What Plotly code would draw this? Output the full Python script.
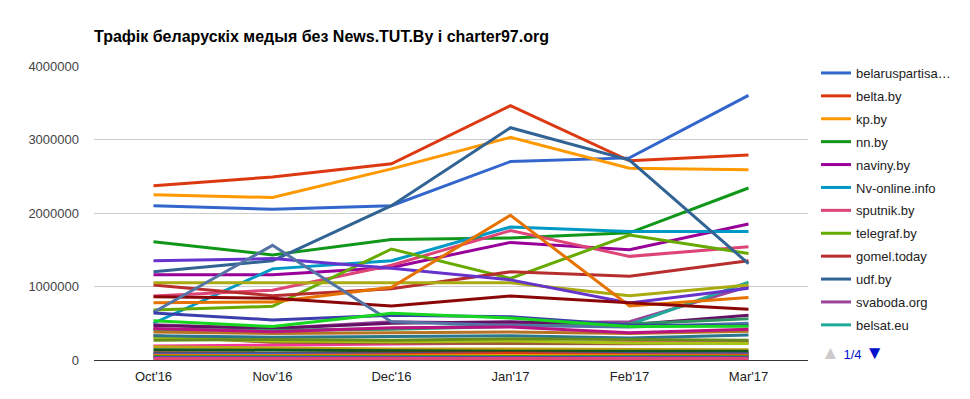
import plotly.graph_objects as go

months = ["Oct'16", "Nov'16", "Dec'16", "Jan'17", "Feb'17", "Mar'17"]

palette = ["#3366cc", "#dc3912", "#ff9900", "#109618", "#990099", "#0099c6",
           "#dd4477", "#66aa00", "#b82e2e", "#316395", "#994499", "#22aa99",
           "#aaaa11", "#6633cc", "#e67300", "#8b0707", "#651067", "#329262",
           "#5574a6", "#3b3eac", "#b77322", "#16d620", "#b91383", "#f4359e",
           "#9c5935", "#a9c413", "#2a778d", "#668d1c", "#bea413", "#0c5922",
           "#743411"]

# First legend page (visible)
belaruspartisan = [2100000, 2050000, 2100000, 2700000, 2750000, 3600000]
belta = [2370000, 2490000, 2670000, 3460000, 2710000, 2790000]
kp_by = [2250000, 2210000, 2600000, 3030000, 2610000, 2590000]
nn_by = [1610000, 1430000, 1640000, 1660000, 1730000, 2340000]
naviny_by = [1160000, 1160000, 1260000, 1600000, 1500000, 1850000]
nv_online = [500000, 1240000, 1350000, 1810000, 1750000, 1750000]
sputnik_by = [870000, 950000, 1290000, 1760000, 1410000, 1540000]
telegraf_by = [680000, 730000, 1510000, 1110000, 1700000, 1450000]
gomel_today = [1020000, 875000, 970000, 1200000, 1140000, 1350000]
udf_by = [1200000, 1350000, 2100000, 3160000, 2720000, 1310000]
svaboda_org = [480000, 430000, 520000, 500000, 520000, 1000000]
belsat_eu = [420000, 400000, 430000, 470000, 480000, 1060000]

# Remaining legend pages (2/4 .. 4/4), names not shown in the picture
s13 = [1050000, 1050000, 1050000, 1050000, 875000, 1020000]
s14 = [1350000, 1380000, 1250000, 1090000, 775000, 975000]
s15 = [780000, 790000, 990000, 1970000, 735000, 850000]
s16 = [860000, 840000, 735000, 870000, 780000, 690000]
s17 = [470000, 430000, 500000, 520000, 480000, 610000]
s18 = [420000, 400000, 420000, 450000, 490000, 560000]
s19 = [650000, 1560000, 520000, 470000, 450000, 500000]
s20 = [640000, 545000, 610000, 590000, 476000, 470000]
s21 = [380000, 360000, 370000, 380000, 360000, 390000]
s22 = [535000, 455000, 635000, 570000, 455000, 460000]
s23 = [430000, 385000, 440000, 450000, 370000, 420000]
s24 = [190000, 200000, 220000, 230000, 250000, 260000]
s25 = [330000, 240000, 230000, 220000, 220000, 230000]
s26 = [300000, 260000, 250000, 260000, 230000, 225000]
s27 = [330000, 310000, 320000, 330000, 300000, 340000]
s28 = [270000, 280000, 270000, 290000, 280000, 270000]
s29 = [180000, 160000, 150000, 150000, 140000, 140000]
s30 = [140000, 130000, 130000, 120000, 120000, 120000]
s31 = [100000, 90000, 95000, 100000, 90000, 90000]
s32 = [80000, 75000, 80000, 85000, 80000, 80000]
s33 = [65000, 60000, 70000, 90000, 70000, 65000]
s34 = [55000, 50000, 55000, 60000, 55000, 50000]
s35 = [45000, 45000, 45000, 50000, 45000, 45000]
s36 = [35000, 35000, 35000, 40000, 35000, 35000]
s37 = [28000, 28000, 28000, 30000, 28000, 28000]
s38 = [20000, 20000, 22000, 22000, 20000, 20000]

series = [
    ("belaruspartisa…", belaruspartisan), ("belta.by", belta), ("kp.by", kp_by),
    ("nn.by", nn_by), ("naviny.by", naviny_by), ("Nv-online.info", nv_online),
    ("sputnik.by", sputnik_by), ("telegraf.by", telegraf_by),
    ("gomel.today", gomel_today), ("udf.by", udf_by),
    ("svaboda.org", svaboda_org), ("belsat.eu", belsat_eu),
    ("media 13", s13), ("media 14", s14), ("media 15", s15), ("media 16", s16),
    ("media 17", s17), ("media 18", s18), ("media 19", s19), ("media 20", s20),
    ("media 21", s21), ("media 22", s22), ("media 23", s23), ("media 24", s24),
    ("media 25", s25), ("media 26", s26), ("media 27", s27), ("media 28", s28),
    ("media 29", s29), ("media 30", s30), ("media 31", s31), ("media 32", s32),
    ("media 33", s33), ("media 34", s34), ("media 35", s35), ("media 36", s36),
    ("media 37", s37), ("media 38", s38),
]

FONT = "Liberation Sans, Arial, sans-serif"

fig = go.Figure()
for i, (name, vals) in enumerate(series):
    fig.add_trace(go.Scatter(
        x=months, y=vals, name=name, mode="lines",
        line=dict(color=palette[i % len(palette)], width=3),
        showlegend=i < 12, legendgroup="g%d" % i,
    ))

# The page body has an 8px margin, so the figure is drawn 8px in from the
# window's top-left corner; layout positions below are in window pixels.
OFF = 8
WIN_W, WIN_H = 970, 399
W, H = WIN_W - OFF, WIN_H - OFF
L, R, T, B = 94 - OFF, 808 - OFF, 66 - OFF, 360 - OFF
pw, ph = R - L, B - T

def px(x):
    return (x - OFF - L) / pw

def py(y):
    return (B - (y - OFF)) / ph

pager = ('<span style="color:#cccccc;font-size:19px">▲</span> '
         '<span style="color:#0011cc">1/4</span> '
         '<span style="color:#0011cc;font-size:19px">▼</span>')

fig.update_layout(
    width=W, height=H,
    margin=dict(l=L, r=W - R, t=T, b=H - B, pad=0, autoexpand=False),
    paper_bgcolor="white", plot_bgcolor="white",
    font=dict(family=FONT, size=13, color="#222222"),
    title=dict(text="<b>Трафік беларускіх медыя без News.TUT.By і charter97.org</b>",
               font=dict(family=FONT, size=16, color="#000000"),
               x=(94 - OFF) / W, xanchor="left", xref="container",
               y=1 - (36 - OFF) / H, yanchor="middle", yref="container"),
    xaxis=dict(range=[-0.5, 5.5], showgrid=False, showline=False, ticks="",
               ticklabelstandoff=7,
               tickfont=dict(size=13, color="#222222"), fixedrange=True),
    yaxis=dict(range=[0, 4000000], tickvals=[0, 1000000, 2000000, 3000000, 4000000],
               ticktext=["0", "1000000", "2000000", "3000000", "4000000"],
               showgrid=True, gridcolor="#cccccc", gridwidth=1,
               zeroline=True, zerolinecolor="#333333", zerolinewidth=1,
               ticks="", ticklabelstandoff=14,
               tickfont=dict(size=13, color="#444444"), fixedrange=True),
    legend=dict(x=px(816), xanchor="left", y=py(58), yanchor="top",
                font=dict(size=13, color="#222222"), bgcolor="rgba(0,0,0,0)",
                tracegroupgap=3, maxheight=330,
                itemclick=False, itemdoubleclick=False),
    showlegend=True,
    annotations=[
        dict(text=pager, x=px(819), y=py(352), xref="paper", yref="paper",
             xanchor="left", yanchor="middle", showarrow=False,
             font=dict(size=13, color="#0011cc")),
    ],
)

fig.write_html("out.html")
